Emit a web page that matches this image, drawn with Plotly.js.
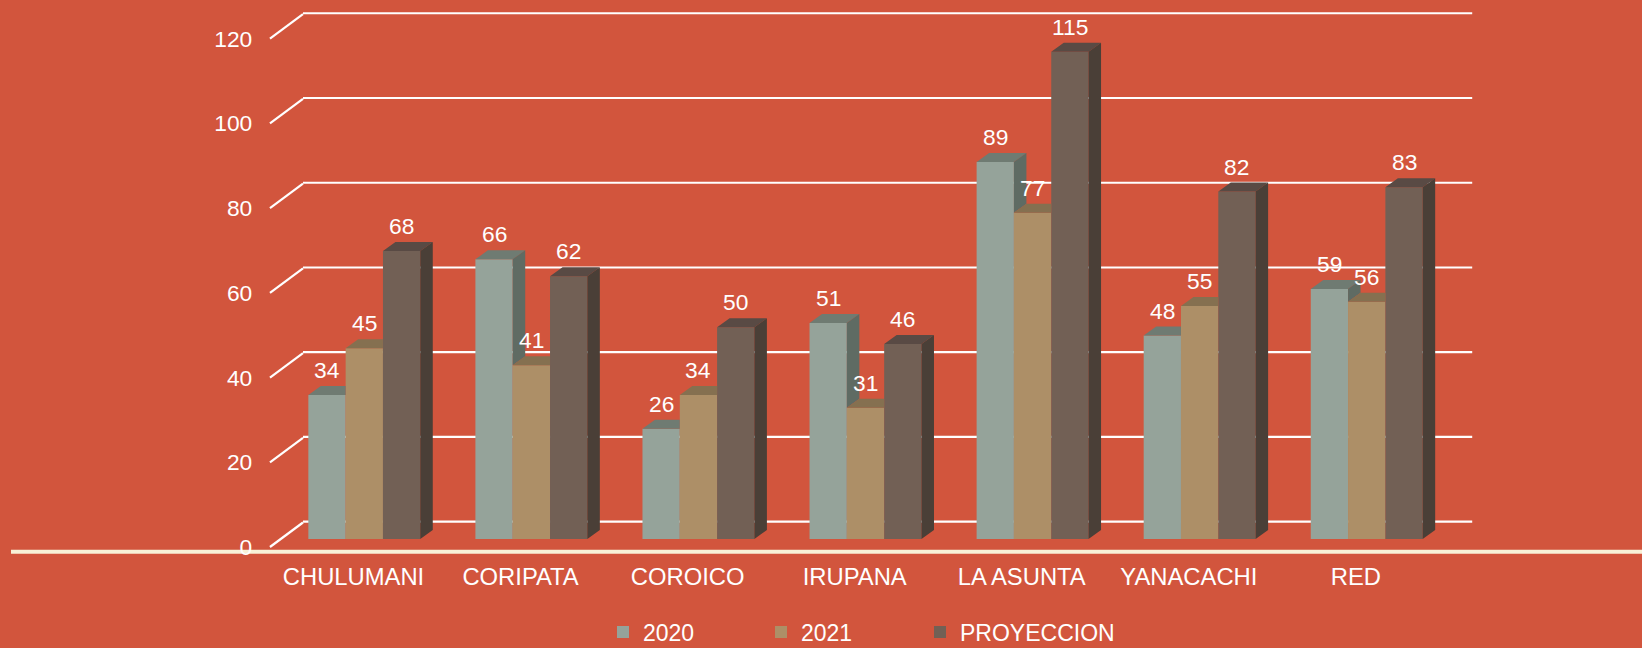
<!DOCTYPE html>
<html>
<head>
<meta charset="utf-8">
<script src="https://cdn.plot.ly/plotly-3.0.1.min.js"></script>
<style>
  html, body { margin: 0; padding: 0; background: #D2553D; }
  #chart { width: 1642px; height: 648px; }
</style>
</head>
<body>
<div id="chart"></div>
<script>
// ---- data ----
const categories = ['CHULUMANI', 'CORIPATA', 'COROICO', 'IRUPANA', 'LA ASUNTA', 'YANACACHI', 'RED'];
const seriesNames = ['2020', '2021', 'PROYECCION'];
const values2020 = [34, 66, 26, 51, 89, 48, 59];
const values2021 = [45, 41, 34, 31, 77, 55, 56];
const valuesProy = [68, 62, 50, 46, 115, 82, 83];
const yTickVals = [0, 20, 40, 60, 80, 100, 120];
const yTickText = ['0', '20', '40', '60', '80', '100', '120'];

// ---- styling / geometry ----
const W = 1642, H = 648;
const SP = 167.07;   // px per category
const K = 4.237;     // px per value unit
const FONT = 'Liberation Sans, Arial, sans-serif';
const frontCol = ['#95A39A', '#AD8F67', '#726055'];
const topCol   = ['#6F7B72', '#857050', '#594A44'];
const sideCol  = ['#5F6B63', '#76613F', '#4A3F37'];
const legendTextX = [639, 797, 956];

const planes = {
  back:  { cx0: 386.5, py0: 521.7, xr: [-0.5, 6.5], yr: [-1, 121] },
  bar:   { cx0: 364.3, py0: 539.0, xr: [-0.5, 6.5], yr: [-1, 121] },
  front: { cx0: 353.5, py0: 547.0, xr: [-0.6, 6.5], yr: [-1, 128] }
};
function domX(p) { return [(p.cx0 + p.xr[0] * SP) / W, (p.cx0 + p.xr[1] * SP) / W]; }
function domY(p) { return [(H - (p.py0 - p.yr[0] * K)) / H, (H - (p.py0 - p.yr[1] * K)) / H]; }

const series = [values2020, values2021, valuesProy];
const nS = series.length;
const bargap = 0.33;
const bw = (1 - bargap) / nS;
const dX = 12.5 / SP, dY = 9 / K;           // bar depth (bar plane units)
const stubDX = 33 / SP, stubDY = 24.5 / K;   // floor depth (front plane units)
const xIdx = categories.map((c, i) => i);

const traces = [];
// back wall gridlines
const bgx = [], bgy = [];
yTickVals.forEach(v => { bgx.push(-0.5, 6.5, null); bgy.push(v, v, null); });
traces.push({
  type: 'scatter', mode: 'lines', x: bgx, y: bgy, xaxis: 'x', yaxis: 'y',
  line: { color: '#FFFFFF', width: 2.2 }, showlegend: false, hoverinfo: 'skip'
});
// front faces: real bars
series.forEach((vals, j) => {
  traces.push({
    type: 'bar', name: seriesNames[j], x: xIdx, y: vals,
    xaxis: 'x2', yaxis: 'y2', legend: j === 0 ? 'legend' : 'legend' + (j + 1),
    marker: { color: frontCol[j], line: { width: 0 } },
    hoverinfo: 'x+y+name'
  });
});
// top & side faces
series.forEach((vals, j) => {
  const tx = [], ty = [], sx = [], sy = [];
  vals.forEach((v, i) => {
    const xl = i + (j - nS / 2) * bw, xr = xl + bw;
    const next = j < nS - 1 ? series[j + 1][i] : null;
    if (next !== null && next > v) {
      tx.push(xl, xr, xr, xl + dX, xl, null);
      ty.push(v, v, v + dY, v + dY, v, null);
    } else {
      tx.push(xl, xr, xr + dX, xl + dX, xl, null);
      ty.push(v, v, v + dY, v + dY, v, null);
    }
    if (next === null) {
      sx.push(xr, xr, xr + dX, xr + dX, xr, null);
      sy.push(0, v, v + dY, dY, 0, null);
    } else if (v > next) {
      sx.push(xr, xr, xr + dX, xr + dX, xr, null);
      sy.push(next, v, v + dY, next + dY, next, null);
    }
  });
  traces.push({
    type: 'scatter', mode: 'lines', x: tx, y: ty, xaxis: 'x2', yaxis: 'y2',
    fill: 'toself', fillcolor: topCol[j], line: { width: 0, color: topCol[j] },
    showlegend: false, hoverinfo: 'skip'
  });
  if (sx.length) {
    traces.push({
      type: 'scatter', mode: 'lines', x: sx, y: sy, xaxis: 'x2', yaxis: 'y2',
      fill: 'toself', fillcolor: sideCol[j], line: { width: 0, color: sideCol[j] },
      showlegend: false, hoverinfo: 'skip'
    });
  }
});
// floor stubs for gridlines (front plane)
const gx = [], gy = [];
yTickVals.forEach(v => { gx.push(-0.5, -0.5 + stubDX, null); gy.push(v, v + stubDY, null); });
traces.push({
  type: 'scatter', mode: 'lines', x: gx, y: gy, xaxis: 'x3', yaxis: 'y3',
  line: { color: '#FFFFFF', width: 2.2 }, showlegend: false, hoverinfo: 'skip'
});

// data labels
const annotations = [];
series.forEach((vals, j) => {
  vals.forEach((v, i) => {
    annotations.push({
      xref: 'x2', yref: 'y2', x: i + (j - (nS - 1) / 2) * bw, y: v,
      text: String(v), showarrow: false, yanchor: 'middle', xanchor: 'center', yshift: 25,
      font: { family: FONT, size: 22.8, color: '#FFFFFF' }
    });
  });
});

const hidden = { visible: true, showgrid: false, zeroline: false, showline: false,
                 showticklabels: false, ticks: '', fixedrange: true };

function legendAt(j) {
  return {
    orientation: 'h', x: (legendTextX[j] - 36) / W, xanchor: 'left', y: (H - 632) / H, yanchor: 'middle',
    font: { family: FONT, size: 23, color: '#FFFFFF' }, bgcolor: 'rgba(0,0,0,0)', borderwidth: 0
  };
}

const layout = {
  width: W, height: H,
  margin: { l: 0, r: 0, t: 0, b: 0, autoexpand: false },
  paper_bgcolor: '#D2553D', plot_bgcolor: 'rgba(0,0,0,0)',
  font: { family: FONT, color: '#FFFFFF', size: 22 },
  barmode: 'group', bargap: bargap, bargroupgap: 0,
  showlegend: true,
  legend: legendAt(0), legend2: legendAt(1), legend3: legendAt(2),
  // back wall
  xaxis: Object.assign({}, hidden, { domain: domX(planes.back), range: planes.back.xr, anchor: 'y' }),
  yaxis: Object.assign({}, hidden, { domain: domY(planes.back), range: planes.back.yr, anchor: 'x' }),
  // bar plane
  xaxis2: Object.assign({}, hidden, { domain: domX(planes.bar), range: planes.bar.xr, anchor: 'y2' }),
  yaxis2: Object.assign({}, hidden, { domain: domY(planes.bar), range: planes.bar.yr, anchor: 'x2' }),
  // front plane: tick labels
  xaxis3: Object.assign({}, hidden, { domain: domX(planes.front), range: planes.front.xr, anchor: 'y3',
          showticklabels: true, tickmode: 'array', tickvals: xIdx, ticktext: categories,
          ticks: 'outside', ticklen: 4, tickcolor: 'rgba(0,0,0,0)',
          tickfont: { family: FONT, size: 23.8, color: '#FFFFFF' } }),
  yaxis3: Object.assign({}, hidden, { domain: domY(planes.front), range: planes.front.yr, anchor: 'x3',
          showticklabels: true, tickmode: 'array', tickvals: yTickVals, ticktext: yTickText,
          tickfont: { family: FONT, size: 22.8, color: '#FFFFFF' } }),
  shapes: [{
    type: 'line', xref: 'paper', yref: 'paper', x0: 11 / W, x1: 1, y0: (H - 551.7) / H, y1: (H - 551.7) / H,
    line: { color: '#F8F1D7', width: 4 }, layer: 'below'
  }],
  annotations: annotations
};

Plotly.newPlot('chart', traces, layout, { displayModeBar: false, staticPlot: true });
</script>
</body>
</html>
